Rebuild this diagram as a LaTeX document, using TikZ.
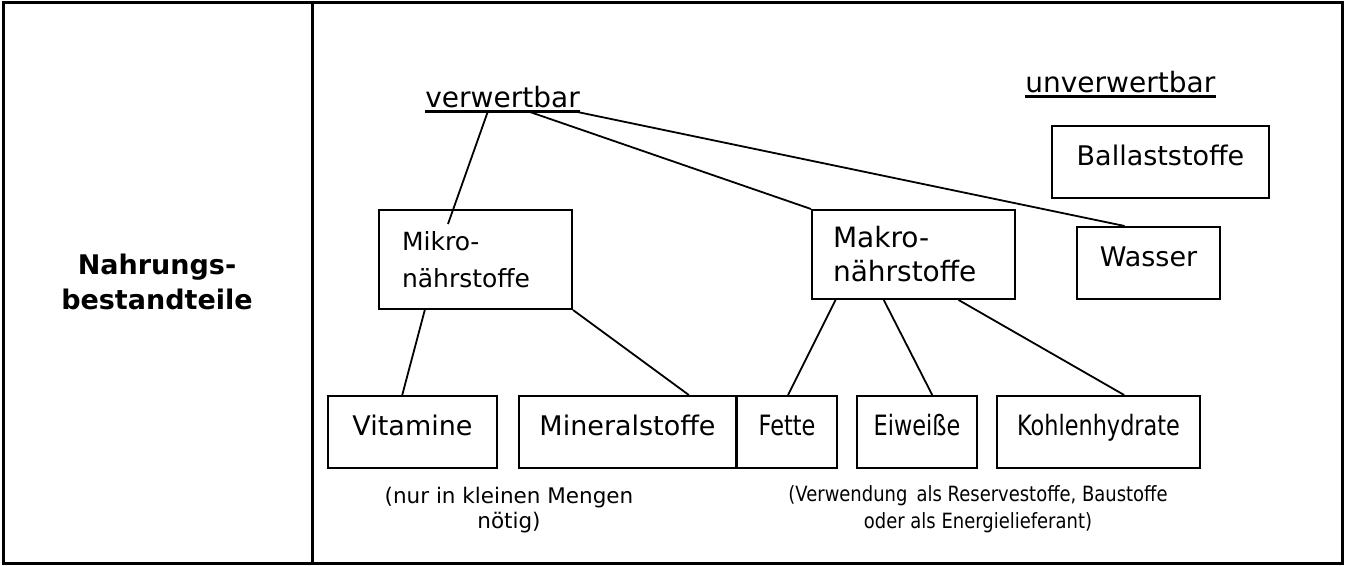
\documentclass[tikz,border=0pt]{standalone}
\usepackage{fontspec}
\setmainfont{DejaVu Sans}
\newfontfamily\schmal[FakeStretch=0.8]{DejaVu Sans}
\newfontfamily\schmalnotiz[FakeStretch=0.855]{DejaVu Sans}
\usetikzlibrary{calc}

\begin{document}
\begin{tikzpicture}[x=0.5pt, y=-0.5pt,
    kasten/.style={draw, line width=1pt, inner sep=0pt, minimum height=36pt,
        font=\fontsize{13.5}{16}\selectfont},
    einzel/.style={kasten, text height=0.75em, text depth=0.35em},
    titel/.style={inner sep=0pt, anchor=base west, font=\fontsize{14}{17}\selectfont},
    linie/.style={line width=0.9pt}]
    \useasboundingbox (0,0) rectangle (1345,566);

    % Rahmen
    \draw[line width=1.5pt] (3,3) rectangle (1342,564);
    \draw[line width=1.5pt] (312,3) -- (312,564);
    \node[align=center, font=\bfseries\fontsize{13.5}{17.5}\selectfont] (nahrung) at (157,282) {Nahrungs-\\bestandteile};

    % Oberbegriffe
    \node[titel] (verw) at (425,108) {verwertbar};
    \draw[line width=1.6pt] ($(verw.base west)+(0,3.5)$) coordinate (vl) -- ($(verw.base east)+(0,3.5)$) coordinate (vr);
    \node[titel] (unverw) at (1025,93) {unverwertbar};
    \draw[line width=1.6pt] ($(unverw.base west)+(0,3.5)$) -- ($(unverw.base east)+(0,3.5)$);

    % Kaesten
    \node[kasten, minimum height=49.5pt, align=left, text width=73.5pt, inner xsep=11.5pt,
        font=\fontsize{12.5}{18.5}\selectfont] (mikro) at (475.5,259.5) {Mikro-\\nährstoffe};
    \node[kasten, minimum height=44.5pt, align=left, text width=80.5pt, inner xsep=10.5pt,
        font=\fontsize{14}{17}\selectfont] (makro) at (913.5,254.5) {Makro-\\nährstoffe};
    \node[einzel, minimum width=71.5pt] (wasser) at (1148.5,263) {Wasser};
    \node[einzel, minimum width=108.5pt] (ballast) at (1160.5,162) {Ballaststoffe};

    \node[einzel, minimum width=84.5pt] (vit) at (412.5,432) {Vitamine};
    \node[einzel, minimum width=108.5pt] (mineral) at (627.5,432) {Mineralstoffe};
    \node[einzel, minimum width=50pt, font=\schmal\fontsize{14}{16}\selectfont] (fette) at (787,432) {Fette};
    \node[einzel, minimum width=60pt, font=\schmal\fontsize{14}{16}\selectfont] (eiweiss) at (917,432) {Eiweiße};
    \node[einzel, minimum width=101.5pt, font=\schmal\fontsize{14}{16}\selectfont] (kohlen) at (1098.5,432) {Kohlenhydrate};

    % Anmerkungen
    \node[align=center, font=\fontsize{10.75}{12.5}\selectfont] (anm1) at (509,510.5) {(nur in kleinen Mengen\\nötig)};
    \node[align=center, font=\schmalnotiz\fontsize{10.5}{13.5}\selectfont] (anm2) at (978,509.5) {(Verwendung\, als Reservestoffe, Baustoffe\\oder als Energielieferant)};

    % Verbindungen
    \coordinate (mikroinnen) at ($(mikro.north west)+(70,15)$);
    \draw[linie] ($(vl)!.405!(vr)$) -- (mikroinnen);
    \draw[linie] ($(vl)!.667!(vr)$) -- (makro.north west);
    \draw[linie] ($(vl)!.967!(vr)$) -- ($(wasser.north west)!.335!(wasser.north east)$);

    \draw[linie] ($(mikro.south west)!.24!(mikro.south east)$) -- ($(vit.north west)!.44!(vit.north east)$);
    \draw[linie] (mikro.south east) -- ($(mineral.north west)!.78!(mineral.north east)$);

    \draw[linie] ($(makro.south west)!.12!(makro.south east)$) -- ($(fette.north west)!.51!(fette.north east)$);
    \draw[linie] ($(makro.south west)!.355!(makro.south east)$) -- ($(eiweiss.north west)!.625!(eiweiss.north east)$);
    \draw[linie] ($(makro.south west)!.72!(makro.south east)$) -- ($(kohlen.north west)!.625!(kohlen.north east)$);
\end{tikzpicture}
\end{document}
